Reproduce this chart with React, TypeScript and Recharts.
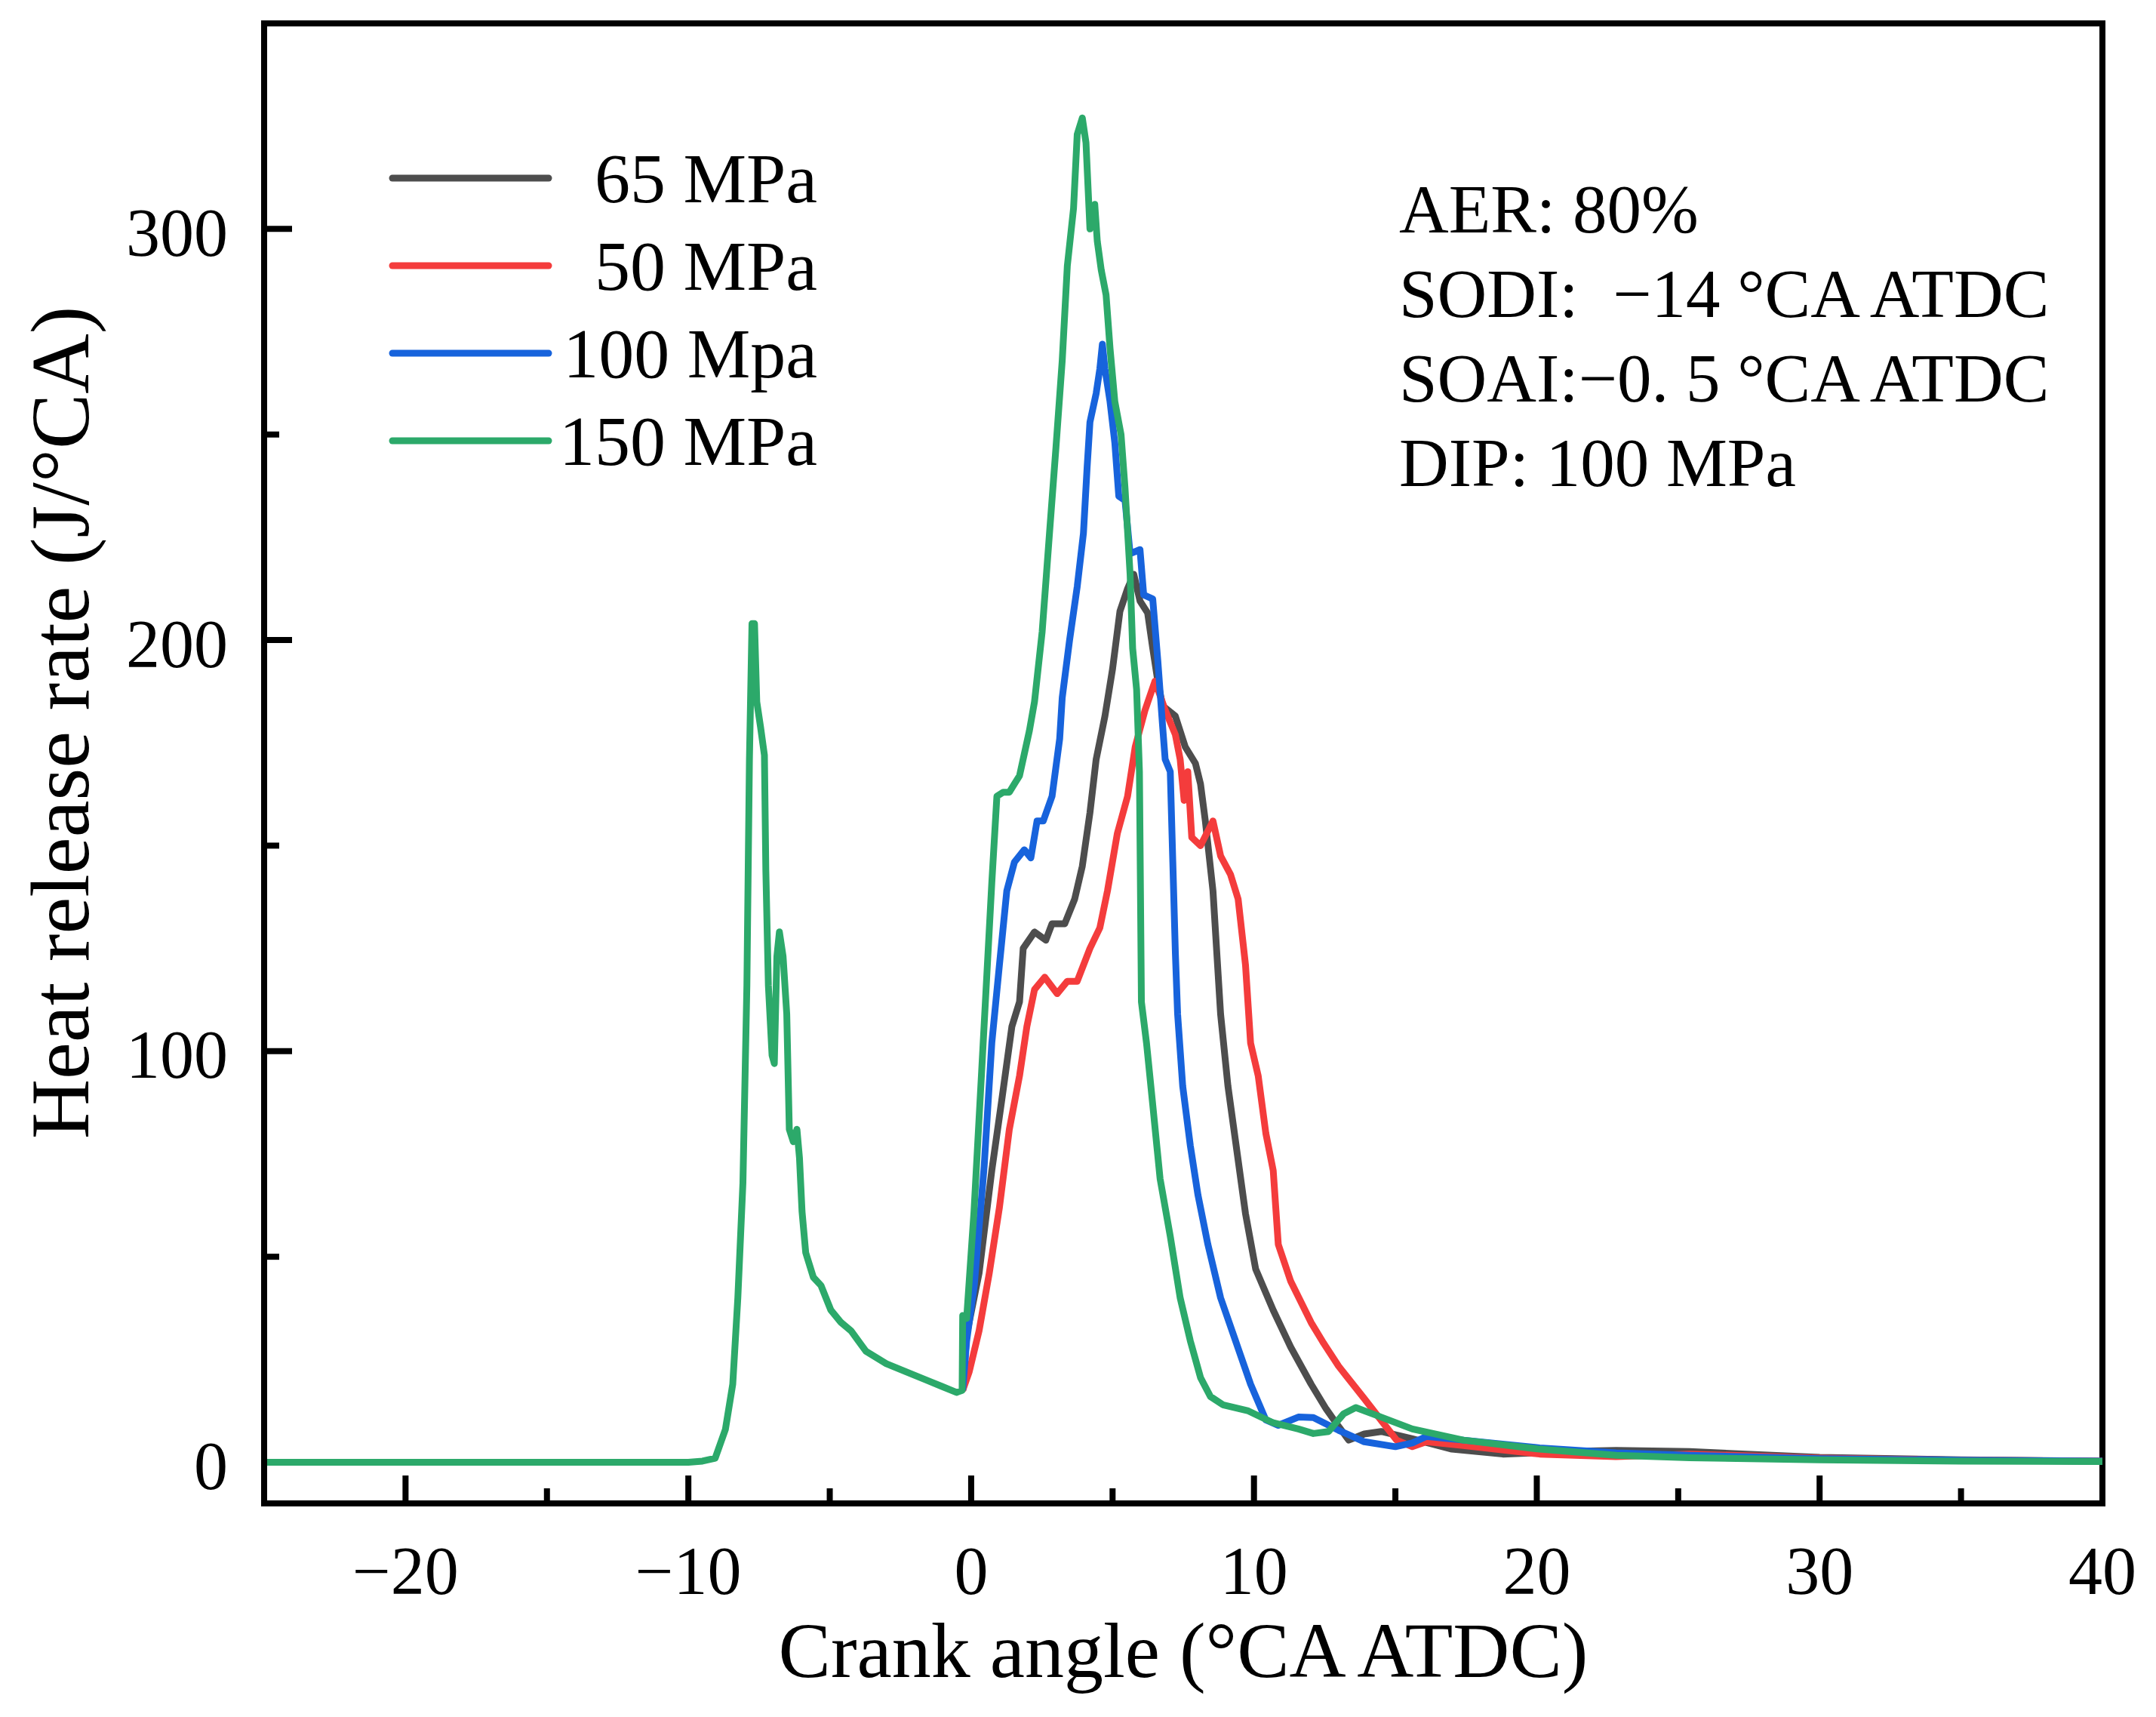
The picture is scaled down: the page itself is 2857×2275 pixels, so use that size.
import { LineChart, Line, XAxis, YAxis, Legend, ReferenceArea } from "recharts";

// crank angle (°CA ATDC) and heat release rate (J/°CA)
const angle65 = [-0.3, -0.16, 0.28, 0.73, 1.08, 1.44, 1.71, 1.84, 2.24, 2.64, 2.86, 3.31, 3.66, 3.93, 4.2, 4.42, 4.73, 5.0, 5.26, 5.53, 5.75, 5.97, 6.24, 6.42, 6.6, 6.77, 7.22, 7.57, 7.93, 8.11, 8.28, 8.55, 8.82, 9.08, 9.35, 9.7, 10.06, 10.68, 11.3, 12.02, 12.55, 12.9, 13.35, 13.9, 14.5, 15.6, 17, 18.8, 21, 22.8, 25.4, 30, 35, 40];
const hrr65 = [17.5, 31, 46, 71, 88, 106, 112, 125, 129, 127, 131, 131, 137, 145, 158, 171, 181.5, 193, 207, 212.5, 216, 209.5, 206.6, 198, 190, 184, 181.5, 174, 170, 165, 156, 139, 109, 91.5, 78, 60.5, 47, 37, 28, 19, 13, 9.6, 5.4, 6.9, 7.5, 5.7, 3.2, 2, 2.6, 2.9, 2.6, 1.2, 0.6, 0.3];

const angle50 = [-0.3, -0.07, 0.28, 0.64, 1.0, 1.35, 1.71, 1.97, 2.24, 2.6, 3.04, 3.4, 3.75, 4.2, 4.55, 4.82, 5.17, 5.53, 5.8, 6.15, 6.5, 6.86, 7.22, 7.39, 7.53, 7.66, 7.8, 8.11, 8.55, 8.82, 9.17, 9.44, 9.7, 9.88, 10.15, 10.42, 10.68, 10.86, 11.3, 12.02, 12.46, 12.99, 13.9, 14.6, 15.04, 15.6, 16.1, 17.4, 20.1, 22.8, 25.4, 30, 35, 40];
const hrr50 = [17.5, 22, 32, 46, 62, 81, 94, 106, 115, 118, 114, 117, 117, 125, 130, 139, 153, 162, 174, 183, 190, 183, 177, 171, 161, 168, 152, 150, 156, 147.5, 143, 137, 121, 102, 94, 80, 71, 53, 44, 34, 29, 23.4, 15.5, 9.3, 5.4, 3.8, 5, 4.1, 2, 1.4, 2, 1, 0.5, 0.3];

const angle100 = [-0.3, -0.16, 0.11, 0.46, 0.73, 1.0, 1.26, 1.53, 1.88, 2.11, 2.33, 2.55, 2.86, 3.13, 3.22, 3.48, 3.75, 3.97, 4.1, 4.2, 4.42, 4.55, 4.64, 4.73, 4.91, 5.08, 5.22, 5.44, 5.62, 5.97, 6.1, 6.42, 6.6, 6.77, 6.86, 7.04, 7.13, 7.22, 7.3, 7.48, 7.75, 8.02, 8.37, 8.82, 9.35, 9.88, 10.42, 10.86, 11.57, 12.1, 12.99, 13.9, 15.0, 15.6, 16.1, 17.4, 20.1, 22.8, 25.4, 30, 35, 40];
const hrr100 = [17.5, 29.5, 43, 72, 102, 121, 139, 146, 149, 147, 156, 156, 162, 176, 186, 200, 213, 226, 242, 253, 260, 266, 272, 266, 258, 248, 235, 234, 221, 222, 211, 210, 195, 179, 171, 168, 146, 124, 109, 91.5, 77, 65, 53, 40, 29.5, 19, 10.3, 9, 11, 10.9, 7.8, 5, 3.8, 4.7, 6.3, 5.4, 3.5, 2.3, 1.7, 0.9, 0.5, 0.3];

const angle150 = [-25, -10, -9.5, -9.05, -8.69, -8.43, -8.25, -8.07, -7.93, -7.84, -7.75, -7.66, -7.58, -7.45, -7.31, -7.26, -7.17, -7.04, -6.96, -6.87, -6.78, -6.65, -6.52, -6.43, -6.29, -6.16, -6.07, -5.98, -5.85, -5.58, -5.31, -4.96, -4.6, -4.25, -3.72, -3.0, -2.3, -1.58, -1.05, -0.52, -0.32, -0.3, -0.16, 0.1, 0.37, 0.73, 0.91, 1.13, 1.35, 1.53, 1.71, 2.06, 2.24, 2.51, 2.77, 3.0, 3.22, 3.4, 3.62, 3.75, 3.93, 4.06, 4.2, 4.37, 4.46, 4.6, 4.77, 4.91, 5.08, 5.3, 5.44, 5.62, 5.71, 5.85, 5.95, 6.02, 6.2, 6.42, 6.68, 7.04, 7.39, 7.75, 8.11, 8.46, 8.9, 9.8, 10.68, 11.57, 12.1, 12.64, 13.17, 13.6, 14.3, 15.6, 17.4, 20.1, 22.8, 25.4, 30, 35, 40];
const hrr150 = [0, 0, 0.3, 1, 8, 19, 40, 68, 116, 171, 204, 204, 185, 179, 172, 144, 116, 99, 97, 123, 129, 123, 109, 81, 78, 81, 74, 61, 51, 45, 43, 37, 34, 32, 27, 24, 22, 20, 18.5, 17, 17.5, 35.7, 35, 61, 95, 141, 162, 163, 163, 165, 167, 178, 185, 202, 226, 247, 268, 291, 305, 323, 327, 321, 300, 306, 297, 290, 284, 271, 258, 250, 237, 216, 198, 188, 168, 112, 102, 87, 69, 55, 40, 29.5, 20.6, 16, 14, 12.5, 9.6, 8.1, 7, 7.5, 11.8, 13.3, 11.5, 8.1, 5.4, 3.2, 1.7, 1.1, 0.6, 0.3, 0.2];

const seriesNames = ["65 MPa", "50 MPa", "100 Mpa", "150 MPa"];
const seriesColors = ["#4d4d4d", "#f43c3c", "#1763dc", "#2ca96a"];

const xMajor = [-20, -10, 0, 10, 20, 30, 40];
const xMinor = [-15, -5, 5, 15, 25, 35];
const yMajor = [0, 100, 200, 300];
const yMinor = [50, 150, 250];

const notes = ["AER: 80%", "SODI:  \u221214 \u00b0CA ATDC", "SOAI:\u22120. 5 \u00b0CA ATDC", "DIP: 100 MPa"];

const FONT = '"Liberation Serif", "Times New Roman", serif';
const X_DOMAIN = [-25, 40];
const Y_DOMAIN = [-10, 350];

const toRows = (xs: number[], ys: number[]) => xs.map((a, i) => ({ angle: a, hrr: ys[i] }));

const series = [
  toRows(angle65, hrr65),
  toRows(angle50, hrr50),
  toRows(angle100, hrr100),
  toRows(angle150, hrr150),
];

const fmt = (v: number) => (v < 0 ? "\u2212" + Math.abs(v) : String(v));

function XTick(props: any) {
  const { x, y, payload } = props;
  const major = xMajor.includes(payload.value);
  return (
    <g>
      <line x1={x} x2={x} y1={y} y2={y - (major ? 37 : 20)} stroke="#000" strokeWidth={8} />
      {major && (
        <text x={x} y={y + 120} textAnchor="middle" fontSize={90} fontFamily={FONT} fill="#000">
          {fmt(payload.value)}
        </text>
      )}
    </g>
  );
}

function YTick(props: any) {
  const { x, y, payload } = props;
  const major = yMajor.includes(payload.value);
  // the zero tick sits under the baseline of the curves in the original, so it is not drawn on top
  const showLine = payload.value !== 0;
  return (
    <g>
      {showLine && <line x1={x} x2={x + (major ? 37 : 20)} y1={y} y2={y} stroke="#000" strokeWidth={8} />}
      {major && (
        <text x={x - 48} y={y + 5} textAnchor="end" dominantBaseline="central" fontSize={90} fontFamily={FONT} fill="#000">
          {payload.value}
        </text>
      )}
    </g>
  );
}

function XTitle(props: any) {
  const { x = 342, y = 1984, width = 2436, height = 275 } = props.viewBox || {};
  return (
    <text x={x + width / 2} y={y + height - 45} textAnchor="middle" fontSize={104} fontFamily={FONT} fill="#000">
      Crank angle (°CA ATDC)
    </text>
  );
}

function YTitle(props: any) {
  const { y = 23, height = 1961 } = props.viewBox || {};
  const cx = 72;
  const cy = y + height / 2 - 54;
  return (
    <text
      x={cx}
      y={cy}
      transform={`rotate(-90, ${cx}, ${cy})`}
      textAnchor="middle"
      dominantBaseline="central"
      fontSize={110}
      fontFamily={FONT}
      fill="#000"
    >
      Heat release rate (J/°CA)
    </text>
  );
}

function LegendBox(props: any) {
  const payload = (props.payload || []).slice().sort(
    (a: any, b: any) => seriesNames.indexOf(a.value) - seriesNames.indexOf(b.value)
  );
  return (
    <svg width={650} height={500} style={{ display: "block" }}>
      {payload.map((p: any, i: number) => {
        const cy = 78 + i * 116;
        return (
          <g key={p.value}>
            <line x1={36} x2={243} y1={cy} y2={cy} stroke={p.color} strokeWidth={9} strokeLinecap="round" />
            <text x={599} y={cy + 32} textAnchor="end" fontSize={94} fontFamily={FONT} fill="#000">
              {p.value}
            </text>
          </g>
        );
      })}
    </svg>
  );
}

export default function App() {
  return (
    <div style={{ width: 2841, height: 2259, background: "#fff" }}>
      <LineChart width={2841} height={2259} margin={{ top: 23, right: 63, bottom: 0, left: 0 }}>
        <XAxis
          dataKey="angle"
          type="number"
          domain={X_DOMAIN}
          allowDataOverflow
          ticks={[...xMajor, ...xMinor].sort((a, b) => a - b)}
          interval={0}
          tickSize={0}
          tickMargin={0}
          tickLine={false}
          tick={<XTick />}
          axisLine={{ stroke: "#000", strokeWidth: 8 }}
          height={275}
          label={<XTitle />}
        />
        <YAxis
          type="number"
          domain={Y_DOMAIN}
          allowDataOverflow
          ticks={[...yMajor, ...yMinor].sort((a, b) => a - b)}
          interval={0}
          tickSize={0}
          tickMargin={0}
          tickLine={false}
          tick={<YTick />}
          axisLine={{ stroke: "#000", strokeWidth: 8 }}
          width={342}
          label={<YTitle />}
        />
        <ReferenceArea
          x1={X_DOMAIN[0]}
          x2={X_DOMAIN[1]}
          y1={Y_DOMAIN[0]}
          y2={Y_DOMAIN[1]}
          fill="none"
          fillOpacity={0}
          stroke="#000"
          strokeWidth={8}
          ifOverflow="visible"
        />
        {series.map((rows, i) => (
          <Line
            key={seriesNames[i]}
            data={rows}
            dataKey="hrr"
            name={seriesNames[i]}
            type="linear"
            stroke={seriesColors[i]}
            strokeWidth={9}
            strokeLinejoin="round"
            dot={false}
            activeDot={false}
            isAnimationActive={false}
          />
        ))}
        <Legend
          layout="vertical"
          align="center"
          verticalAlign="middle"
          wrapperStyle={{ left: 476, top: 150, width: 650, height: 500 }}
          content={<LegendBox />}
        />
        <g>
          {notes.map((t, i) => (
            <text
              key={t}
              x={1846}
              y={300 + i * 112}
              fontSize={91}
              fontFamily={FONT}
              fill="#000"
              style={{ whiteSpace: "pre" }}
            >
              {t}
            </text>
          ))}
        </g>
      </LineChart>
    </div>
  );
}
